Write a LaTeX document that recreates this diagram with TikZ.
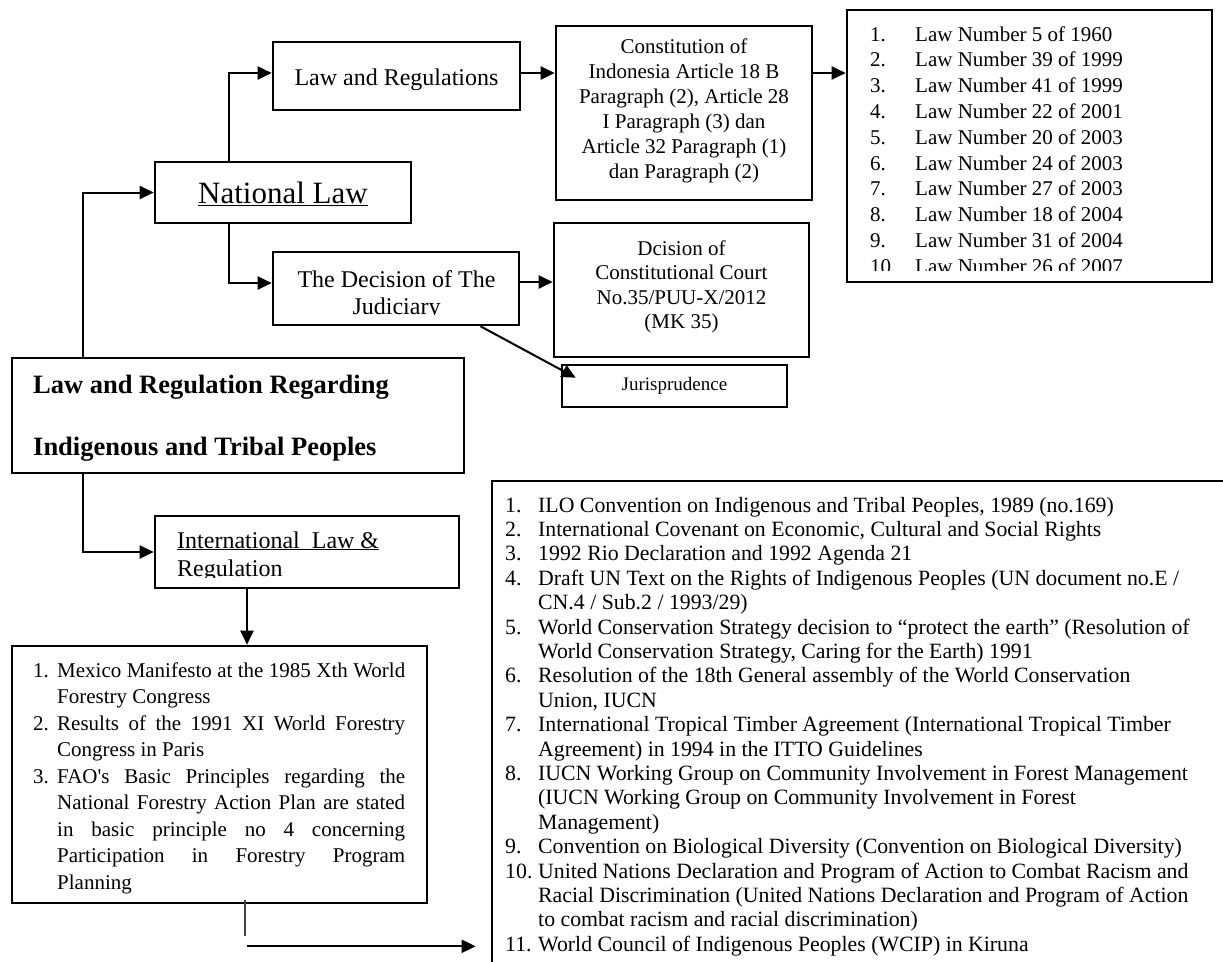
\documentclass[tikz,border=0pt]{standalone}
\usepackage{fontspec}
\setmainfont{Liberation Serif}[Ligatures=TeXOff]
\usetikzlibrary{arrows.meta,calc}
\newcommand\fsz[2]{\fontsize{#1}{#2}\selectfont}
\tikzset{
  box/.style={draw, line width=2.6pt, inner sep=0pt, rectangle},
  arr/.style={-{Triangle[length=14pt,width=13pt]}, line width=2pt},
  thinline/.style={line width=1.2pt, black!75},
  t21/.style={inner sep=0pt, font=\fsz{21}{25}},
  t24/.style={inner sep=0pt, font=\fsz{24}{28}},
  ttl/.style={inner sep=0pt, font=\fsz{26.5}{30}\bfseries},
  itx/.style={inner sep=0pt, font=\fsz{21.8}{25}, anchor=base west},
  ftx/.style={inner sep=0pt, font=\fsz{21}{25}, anchor=base west},
}
\newcommand\lawline[3]{%
  \node[t21, anchor=base west] (ln#1) at (870,{41+(#1-1)*25.8}) {#2};
  \node[t21, anchor=base west] (lt#1) at (915,{41+(#1-1)*25.8}) {#3};}
\newcommand\iline[3]{%
  \node[itx] (in#1) at (505,{512+(#1-1)*24.4}) {#2};
  \node[itx] (it#1) at (538,{512+(#1-1)*24.4}) {#3};}
\newcommand\fline[3]{%
  \node[ftx] (fn#1) at (33,{677+(#1-1)*26.5}) {#2};
  \node[ftx] (ft#1) at (57,{677+(#1-1)*26.5}) {#3};}
\newcommand\jst[1]{\makebox[348pt][s]{#1}}
\begin{document}
\begin{tikzpicture}[x=1pt,y=-1pt]
\path[use as bounding box] (0,0) rectangle (1223,961);
\clip (0,0) rectangle (1223,961);

% boxes
\node[box, minimum width=247pt, minimum height=68pt] (lr) at (396.5,76) {};
\node[box, minimum width=256pt, minimum height=174pt] (const) at (684,113) {};
\node[box, minimum width=365pt, minimum height=272pt] (laws) at (1029.5,146) {};
\node[box, minimum width=256pt, minimum height=61pt] (natl) at (283,192.5) {};
\node[box, minimum width=246pt, minimum height=73pt] (jud) at (396,288.5) {};
\node[box, minimum width=255pt, minimum height=134pt] (dec) at (681.5,290) {};
\node[box, minimum width=225pt, minimum height=42pt] (jur) at (674.5,386) {};
\node[box, minimum width=452pt, minimum height=115pt] (main) at (238,415.5) {};
\node[box, minimum width=304pt, minimum height=72pt] (intl) at (307,552) {};
\node[box, minimum width=415pt, minimum height=257pt] (fao) at (219.5,774.5) {};
\node[box, minimum width=808pt, minimum height=519pt] (ilo) at (896,740.5) {};

% texts
\node[t24, anchor=base] (lrt) at (396.5,85) {Law and Regulations};
\node[t21, align=center] (constt) at (684,111) {Constitution of\\Indonesia Article 18 B\\Paragraph (2), Article 28\\I Paragraph (3) dan\\Article 32 Paragraph (1)\\dan Paragraph (2)};
\begin{scope}
\clip (847,10) rectangle (1212,270);
\lawline{1}{1.}{Law Number 5 of 1960}
\lawline{2}{2.}{Law Number 39 of 1999}
\lawline{3}{3.}{Law Number 41 of 1999}
\lawline{4}{4.}{Law Number 22 of 2001}
\lawline{5}{5.}{Law Number 20 of 2003}
\lawline{6}{6.}{Law Number 24 of 2003}
\lawline{7}{7.}{Law Number 27 of 2003}
\lawline{8}{8.}{Law Number 18 of 2004}
\lawline{9}{9.}{Law Number 31 of 2004}
\lawline{10}{10.}{Law Number 26 of 2007}
\end{scope}
\node[inner sep=0pt, font=\fsz{31}{35}, anchor=base] (natlt) at (283,203) {\underline{National Law}};
\begin{scope}
\clip (273,252) rectangle (519,314);
\node[t24, anchor=base] (judt1) at (396.5,287) {The Decision of The};
\node[t24, anchor=base] (judt2) at (396.5,314) {Judiciary};
\end{scope}
\node[t21, anchor=base] (dect1) at (681.5,255) {Dcision of};
\node[t21, anchor=base] (dect2) at (681.5,279.5) {Constitutional Court};
\node[t21, anchor=base] (dect3) at (681.5,304) {No.35/PUU-X/2012};
\node[t21, anchor=base] (dect4) at (681.5,328.5) {(MK 35)};
\node[inner sep=0pt, font=\fsz{19}{22}] (jurt) at (674.5,386) {Jurisprudence};
\node[ttl, anchor=base west] (maint1) at (33,393) {Law and Regulation Regarding};
\node[ttl, anchor=base west] (maint2) at (33,455) {Indigenous and Tribal Peoples};
\node[t24, anchor=base west] (intlt1) at (177,548) {\underline{International\ \ Law \&}};
\begin{scope}
\clip (155,516) rectangle (459,577.5);
\node[t24, anchor=base west] (intlt2) at (177,576) {Regulation};
\end{scope}

\fline{1}{1.}{\jst{Mexico Manifesto at the 1985 Xth World}}
\fline{2}{}{Forestry Congress}
\fline{3}{2.}{\jst{Results of the 1991 XI World Forestry}}
\fline{4}{}{Congress in Paris}
\fline{5}{3.}{\jst{FAO's Basic Principles regarding the}}
\fline{6}{}{\jst{National Forestry Action Plan are stated}}
\fline{7}{}{\jst{in basic principle no 4 concerning}}
\fline{8}{}{\jst{Participation in Forestry Program}}
\fline{9}{}{Planning}

\iline{1}{1.}{ILO Convention on Indigenous and Tribal Peoples, 1989 (no.169)}
\iline{2}{2.}{International Covenant on Economic, Cultural and Social Rights}
\iline{3}{3.}{1992 Rio Declaration and 1992 Agenda 21}
\iline{4}{4.}{Draft UN Text on the Rights of Indigenous Peoples (UN document no.E /}
\iline{5}{}{CN.4 / Sub.2 / 1993/29)}
\iline{6}{5.}{World Conservation Strategy decision to “protect the earth” (Resolution of}
\iline{7}{}{World Conservation Strategy, Caring for the Earth) 1991}
\iline{8}{6.}{Resolution of the 18th General assembly of the World Conservation}
\iline{9}{}{Union, IUCN}
\iline{10}{7.}{International Tropical Timber Agreement (International Tropical Timber}
\iline{11}{}{Agreement) in 1994 in the ITTO Guidelines}
\iline{12}{8.}{IUCN Working Group on Community Involvement in Forest Management}
\iline{13}{}{(IUCN Working Group on Community Involvement in Forest}
\iline{14}{}{Management)}
\iline{15}{9.}{Convention on Biological Diversity (Convention on Biological Diversity)}
\iline{16}{10.}{United Nations Declaration and Program of Action to Combat Racism and}
\iline{17}{}{Racial Discrimination (United Nations Declaration and Program of Action}
\iline{18}{}{to combat racism and racial discrimination)}
\iline{19}{11.}{World Council of Indigenous Peoples (WCIP) in Kiruna}

% connectors
\coordinate (sp) at (229,0);
\coordinate (lsp) at (83,0);
\coordinate (isp) at (247,0);
\draw[arr] (natl.north -| sp) |- ([yshift=3pt]lr.west);
\draw[arr] (natl.south -| sp) |- ([yshift=5.5pt]jud.west);
\draw[arr] ([yshift=3pt]lr.east) -- ([yshift=3pt]lr.east -| const.west);
\draw[arr] ([yshift=3pt]lr.east -| const.east) -- ([yshift=3pt]lr.east -| laws.west);
\draw[arr] ([yshift=6.5pt]jud.east) -- ([yshift=6.5pt]jud.east -| dec.west);
\draw[arr] ($(jud.south west)!0.84!(jud.south east)$) -- ($(jur.north west)+(15,14)$);
\draw[arr] (main.north -| lsp) |- (natl.west);
\draw[arr] (main.south -| lsp) |- (intl.west);
\draw[arr] (intl.south -| isp) -- (fao.north -| isp);
\draw[thinline] ($(fao.south -| isp)+(-2,-4)$) -- ++(0,36);
\coordinate (fa) at ($(fao.south -| isp)+(0,42)$);
\draw[arr, shorten >=15pt] (fa) -- (fa -| ilo.west);
\end{tikzpicture}
\end{document}
